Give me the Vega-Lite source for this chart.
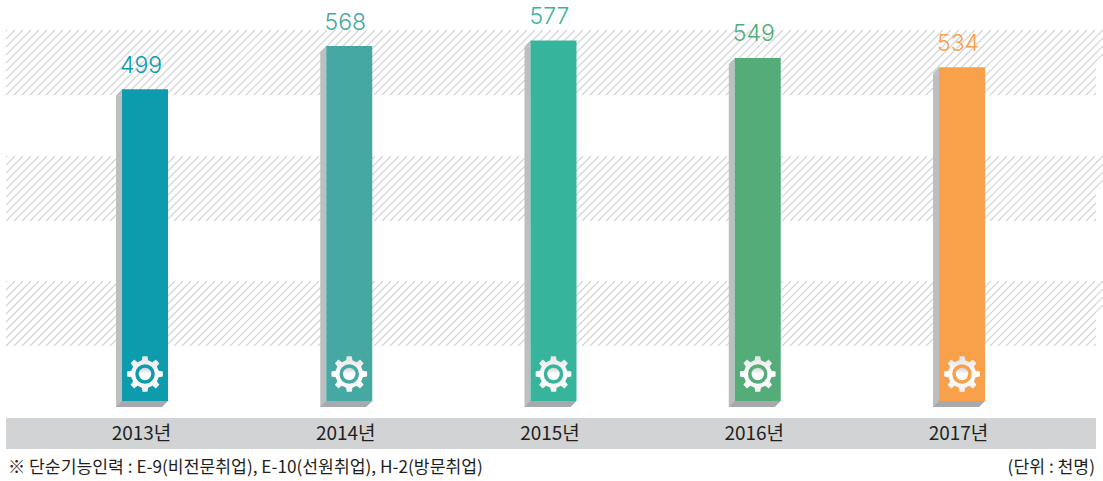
{"$schema":"https://vega.github.io/schema/vega-lite/v6.json","width":1103,"height":481,"autosize":"none","padding":0,"background":"#ffffff","config":{"view":{"stroke":null}},
"datasets":{"bars":[{"year":2013,"value":499},{"year":2014,"value":568},{"year":2015,"value":577},{"year":2016,"value":549},{"year":2017,"value":534}],
"bands":[{"start":2012.3195,"low":489.6},{"start":2012.3195,"low":288},{"start":2012.3195,"low":88}],
"strip":[{"start":2012.3195,"end":2017.656,"low":-27.2,"high":-76.8}],
"noteLeft":[{"label":"※ 단순기능인력 : E-9(비전문취업), E-10(선원취업), H-2(방문취업)","at":2012.3293,"level":-107}],
"noteRight":[{"label":"(단위 : 천명)","at":2017.651,"level":-107}]},
"layer":[
{"data":{"name":"bands"},"mark":{"type":"point","filled":false,"opacity":1,"size":4,"stroke":"#d1d3d4","strokeWidth":1.1,"shape":"M0,0l65,-65m-57,65l65,-65m-57,65l65,-65m-57,65l65,-65m-57,65l65,-65m-57,65l65,-65m-57,65l65,-65m-57,65l65,-65m-57,65l65,-65m-57,65l65,-65m-57,65l65,-65m-57,65l65,-65m-57,65l65,-65m-57,65l65,-65m-57,65l65,-65m-57,65l65,-65m-57,65l65,-65m-57,65l65,-65m-57,65l65,-65m-57,65l65,-65m-57,65l65,-65m-57,65l65,-65m-57,65l65,-65m-57,65l65,-65m-57,65l65,-65m-57,65l65,-65m-57,65l65,-65m-57,65l65,-65m-57,65l65,-65m-57,65l65,-65m-57,65l65,-65m-57,65l65,-65m-57,65l65,-65m-57,65l65,-65m-57,65l65,-65m-57,65l65,-65m-57,65l65,-65m-57,65l65,-65m-57,65l65,-65m-57,65l65,-65m-57,65l65,-65m-57,65l65,-65m-57,65l65,-65m-57,65l65,-65m-57,65l65,-65m-57,65l65,-65m-57,65l65,-65m-57,65l65,-65m-57,65l65,-65m-57,65l65,-65m-57,65l65,-65m-57,65l65,-65m-57,65l65,-65m-57,65l65,-65m-57,65l65,-65m-57,65l65,-65m-57,65l65,-65m-57,65l65,-65m-57,65l65,-65m-57,65l65,-65m-57,65l65,-65m-57,65l65,-65m-57,65l65,-65m-57,65l65,-65m-57,65l65,-65m-57,65l65,-65m-57,65l65,-65m-57,65l65,-65m-57,65l65,-65m-57,65l65,-65m-57,65l65,-65m-57,65l65,-65m-57,65l65,-65m-57,65l65,-65m-57,65l65,-65m-57,65l65,-65m-57,65l65,-65m-57,65l65,-65m-57,65l65,-65m-57,65l65,-65m-57,65l65,-65m-57,65l65,-65m-57,65l65,-65m-57,65l65,-65m-57,65l65,-65m-57,65l65,-65m-57,65l65,-65m-57,65l65,-65m-57,65l65,-65m-57,65l65,-65m-57,65l65,-65m-57,65l65,-65m-57,65l65,-65m-57,65l65,-65m-57,65l65,-65m-57,65l65,-65m-57,65l65,-65m-57,65l65,-65m-57,65l65,-65m-57,65l65,-65m-57,65l65,-65m-57,65l65,-65m-57,65l65,-65m-57,65l65,-65m-57,65l65,-65m-57,65l65,-65m-57,65l65,-65m-57,65l65,-65m-57,65l65,-65m-57,65l65,-65m-57,65l65,-65m-57,65l65,-65m-57,65l65,-65m-57,65l65,-65m-57,65l65,-65m-57,65l65,-65m-57,65l65,-65m-57,65l65,-65m-57,65l65,-65m-57,65l65,-65m-57,65l65,-65m-57,65l65,-65m-57,65l65,-65m-57,65l65,-65m-57,65l65,-65m-57,65l65,-65m-57,65l65,-65m-57,65l65,-65m-57,65l65,-65m-57,65l65,-65m-57,65l65,-65m-57,65l65,-65m-57,65l65,-65M0,-8l57,-57M0,-16l49,-49M0,-24l41,-41M0,-32l33,-33M0,-40l25,-25M0,-48l17,-17M0,-56l9,-9M0,-64l1,-1M1032,0l58,-58M1040,0l50,-50M1048,0l42,-42M1056,0l34,-34M1064,0l26,-26M1072,0l18,-18M1080,0l10,-10M1088,0l2,-2"},
"encoding":{"x":{"field":"start","type":"quantitative","title":null,"scale":{"domain":[2012.2901,2017.6903],"nice":false,"zero":false,"padding":0},"axis":{"values":[2013,2014,2015,2016,2017],"title":null,"domain":false,"ticks":false,"grid":false,"orient":"bottom","offset":-48,"labelPadding":0,"labelBaseline":"middle","labelOffset":-4,"labelFontSize":19,"labelFont":"Noto Sans CJK KR","labelColor":"#231f20","labelExpr":"datum.value + '년'","labelOverlap":false,"labelFlush":false,"zindex":1}},"y":{"field":"low","type":"quantitative","title":null,"scale":{"domain":[-128,641.6],"nice":false,"zero":false},"axis":null}}},
{"data":{"name":"strip"},"mark":{"type":"rect","fill":"#d1d3d4"},"encoding":{"x":{"field":"start","type":"quantitative","title":null},"x2":{"field":"end"},"y":{"field":"low","type":"quantitative"},"y2":{"field":"high"}}},
{"data":{"name":"bars"},"mark":{"type":"bar","orient":"vertical","size":6,"xOffset":-26,"yOffset":6,"y2Offset":6,"fill":"#bcbec0"},"encoding":{"x":{"field":"year","type":"quantitative","title":null},"y":{"field":"value","type":"quantitative"},"y2":{"datum":0}}},
{"data":{"name":"bars"},"mark":{"type":"point","filled":true,"opacity":1,"size":4,"fill":"#bcbec0","strokeWidth":0,"shape":"M-29,6L-23,0L-23,6Z"},"encoding":{"x":{"field":"year","type":"quantitative","title":null},"y":{"field":"value","type":"quantitative"}}},
{"data":{"name":"bars"},"mark":{"type":"point","filled":true,"opacity":1,"size":4,"fill":"#a7a9ac","strokeWidth":0,"shape":"M-29,6L17,6L23,0L-23,0Z"},"encoding":{"x":{"field":"year","type":"quantitative","title":null},"y":{"datum":0}}},
{"data":{"name":"bars"},"mark":{"type":"bar","orient":"vertical","size":46},"encoding":{"x":{"field":"year","type":"quantitative","title":null},"y":{"field":"value","type":"quantitative"},"y2":{"datum":0},"color":{"field":"year","type":"nominal","legend":null,"scale":{"domain":[2013,2014,2015,2016,2017],"range":["#0d9cae","#45a8a3","#36b59c","#54ac78","#f9a04a"]}}}},
{"data":{"name":"bars"},"mark":{"type":"point","filled":true,"opacity":1,"size":4,"strokeWidth":0,"fill":{"gradient":"linear","x1":0.5,"y1":0,"x2":0.5,"y2":1,"stops":[{"offset":0,"color":"#e4e4e4"},{"offset":0.5,"color":"#ffffff"},{"offset":1,"color":"#f2f2f2"}]},"shape":"M13.64,-3.15L17.82,-2.51L17.82,2.51L13.64,3.15L11.87,7.42L14.38,10.83L10.83,14.38L7.42,11.87L3.15,13.64L2.51,17.82L-2.51,17.82L-3.15,13.64L-7.42,11.87L-10.83,14.38L-14.38,10.83L-11.87,7.42L-13.64,3.15L-17.82,2.51L-17.82,-2.51L-13.64,-3.15L-11.87,-7.42L-14.38,-10.83L-10.83,-14.38L-7.42,-11.87L-3.15,-13.64L-2.51,-17.82L2.51,-17.82L3.15,-13.64L7.42,-11.87L10.83,-14.38L14.38,-10.83L11.87,-7.42Z"},"encoding":{"x":{"field":"year","type":"quantitative","title":null},"y":{"datum":43.2}}},
{"data":{"name":"bars"},"mark":{"type":"point","shape":"circle","filled":true,"opacity":1,"size":380,"strokeWidth":0},"encoding":{"x":{"field":"year","type":"quantitative","title":null},"y":{"datum":43.2},"color":{"field":"year","type":"nominal","legend":null}}},
{"data":{"name":"bars"},"mark":{"type":"point","shape":"circle","filled":true,"opacity":1,"size":154,"strokeWidth":0,"fill":{"gradient":"linear","x1":0.5,"y1":0,"x2":0.5,"y2":1,"stops":[{"offset":0,"color":"#d4d4d4"},{"offset":0.5,"color":"#ffffff"},{"offset":1,"color":"#ffffff"}]}},"encoding":{"x":{"field":"year","type":"quantitative","title":null},"y":{"datum":43.2}}},
{"data":{"name":"bars"},"mark":{"type":"text","font":"Inter","fontSize":23,"fontWeight":300,"align":"center","baseline":"alphabetic","dx":-4,"dy":-16.5},"encoding":{"x":{"field":"year","type":"quantitative","title":null},"y":{"field":"value","type":"quantitative"},"text":{"field":"value","type":"quantitative"},"color":{"field":"year","type":"nominal","legend":null}}},
{"data":{"name":"noteLeft"},"mark":{"type":"text","font":"Noto Sans CJK KR","fontSize":17.2,"baseline":"middle","align":"left","fill":"#231f20"},"encoding":{"x":{"field":"at","type":"quantitative","title":null},"y":{"field":"level","type":"quantitative"},"text":{"field":"label","type":"nominal"}}},
{"data":{"name":"noteRight"},"mark":{"type":"text","font":"Noto Sans CJK KR","fontSize":17.2,"baseline":"middle","align":"right","fill":"#231f20"},"encoding":{"x":{"field":"at","type":"quantitative","title":null},"y":{"field":"level","type":"quantitative"},"text":{"field":"label","type":"nominal"}}}
]}
